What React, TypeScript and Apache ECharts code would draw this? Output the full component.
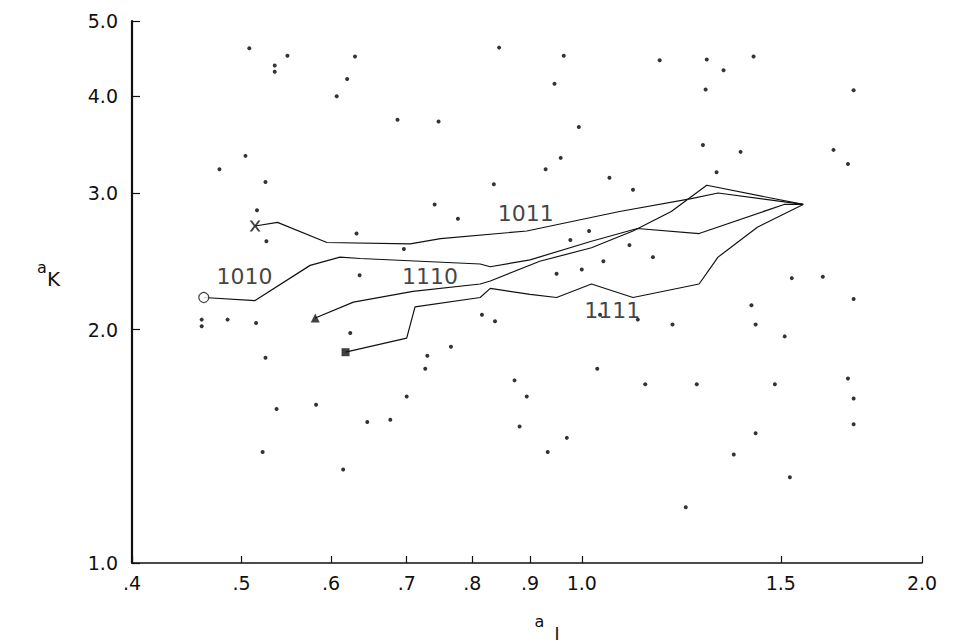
import React, { useEffect, useRef } from 'react';
import * as echarts from 'echarts';

const xTicks = [0.4, 0.5, 0.6, 0.7, 0.8, 0.9, 1.0, 1.5, 2.0];
const xTickLabels = ['.4', '.5', '.6', '.7', '.8', '.9', '1.0', '1.5', '2.0'];
const yTicks = [1.0, 2.0, 3.0, 4.0, 5.0];
const yTickLabels = ['1.0', '2.0', '3.0', '4.0', '5.0'];

const series1011 = [[0.514, 2.72], [0.538, 2.75], [0.595, 2.59], [0.705, 2.58], [0.75, 2.62], [0.894, 2.68], [1.08, 2.84], [1.25, 2.95], [1.32, 3.0], [1.57, 2.9]];
const series1010 = [[0.463, 2.2], [0.514, 2.18], [0.575, 2.42], [0.611, 2.48], [0.637, 2.47], [0.813, 2.43], [0.83, 2.41], [0.9, 2.46], [1.02, 2.6], [1.12, 2.7], [1.27, 2.66], [1.51, 2.9], [1.57, 2.9]];
const series1110 = [[0.581, 2.07], [0.628, 2.17], [0.709, 2.24], [0.813, 2.29], [0.83, 2.31], [0.918, 2.45], [1.02, 2.55], [1.11, 2.68], [1.2, 2.84], [1.29, 3.07], [1.57, 2.9]];
const series1111 = [[0.618, 1.87], [0.70, 1.95], [0.712, 2.14], [0.813, 2.2], [0.83, 2.26], [0.9, 2.22], [0.95, 2.2], [1.02, 2.29], [1.11, 2.2], [1.27, 2.29], [1.32, 2.48], [1.43, 2.71], [1.57, 2.9]];

const curveLabelText = ['1011', '1010', '1110', '1111'];
const curveLabelAt = [[0.892, 2.82], [0.503, 2.34], [0.734, 2.34], [1.064, 2.117]];

const scatterDots = [
  [0.508, 4.61], [0.549, 4.51], [0.535, 4.38], [0.535, 4.30], [0.63, 4.5], [0.62, 4.21], [0.607, 4.0], [0.687, 3.73], [0.747, 3.71], [0.845, 4.62],
  [0.504, 3.35], [0.478, 3.22], [0.525, 3.10], [0.836, 3.08], [0.516, 2.85], [0.741, 2.90], [0.777, 2.78], [0.526, 2.60], [0.632, 2.66], [0.696, 2.54], [0.636, 2.35],
  [0.964, 4.51], [0.946, 4.15], [1.172, 4.45], [1.29, 4.46], [1.335, 4.32], [1.419, 4.5], [1.287, 4.08], [1.74, 4.07], [0.994, 3.65], [0.958, 3.33], [0.929, 3.22],
  [1.058, 3.14], [1.11, 3.03], [1.28, 3.46], [1.382, 3.39], [1.316, 3.19], [1.67, 3.41], [1.72, 3.27],
  [1.015, 2.68], [0.977, 2.61], [1.102, 2.57], [1.045, 2.45], [1.156, 2.48], [0.95, 2.36], [1.0, 2.39], [1.534, 2.33], [1.634, 2.34], [1.74, 2.19],
  [0.461, 2.06], [0.461, 2.02], [0.486, 2.06], [0.515, 2.04], [0.624, 1.98], [0.525, 1.84], [0.73, 1.85], [0.766, 1.90], [0.727, 1.78],
  [0.816, 2.09], [0.838, 2.05], [1.038, 2.09], [1.121, 2.06], [1.203, 2.03], [1.413, 2.15], [1.425, 2.03], [1.512, 1.96],
  [0.522, 1.39], [0.537, 1.58], [0.582, 1.6], [0.615, 1.32], [0.646, 1.52], [0.677, 1.53], [0.70, 1.64], [0.872, 1.72], [0.894, 1.64], [0.881, 1.50],
  [0.933, 1.39], [0.97, 1.45], [1.032, 1.78], [1.138, 1.70], [1.236, 1.18], [1.264, 1.70], [1.363, 1.38], [1.425, 1.47], [1.482, 1.70], [1.528, 1.29],
  [1.74, 1.51], [1.74, 1.63], [1.72, 1.73],
];

const INK = '#111';
const FONT = 'DejaVu Sans';
const X_SYMBOL = 'path://M0,0 L2.2,0 L5,3.8 L7.8,0 L10,0 L6.2,5 L10,10 L7.8,10 L5,6.2 L2.2,10 L0,10 L3.8,5 Z';

function pickLabel(ticks: number[], labels: string[], v: number) {
  const i = ticks.findIndex((t) => Math.abs(t - v) < 1e-6);
  return i >= 0 ? labels[i] : '';
}

export default function App() {
  const ref = useRef<HTMLDivElement>(null);
  useEffect(() => {
    document.body.style.margin = '0';
    if (!ref.current) return;
    const chart = echarts.init(ref.current, null, { renderer: 'svg' });
    const lineStyle = { color: INK, width: 1.2 };
    const mkLine = (name: string, data: number[][]) => ({
      type: 'line', name, data, symbol: 'none', lineStyle, z: 3, silent: true,
    });
    const yNameRich = {
      a: { fontSize: 16, fontFamily: FONT, color: INK, lineHeight: 14, verticalAlign: 'top' },
      k: { fontSize: 20, fontFamily: FONT, color: INK, lineHeight: 29, verticalAlign: 'bottom' },
    };
    const xNameRich = {
      a: { fontSize: 16, fontFamily: FONT, color: INK, lineHeight: 14, verticalAlign: 'top' },
      k: { fontSize: 17, fontFamily: FONT, color: INK, lineHeight: 29, verticalAlign: 'bottom', padding: [0, 0, 0, 10] },
    };
    chart.setOption({
      animation: false,
      backgroundColor: '#fff',
      grid: { left: 132, right: 31, top: 21, bottom: 79, outerBoundsMode: 'none', containLabel: false },
      xAxis: {
        type: 'log', logBase: 10, min: 0.4, max: 2.0,
        name: '{a|a}{k|I}', nameLocation: 'middle', nameGap: 50,
        nameTextStyle: { rich: xNameRich, padding: [0, 0, 0, 40] },
        axisLine: { onZero: false, lineStyle: { color: INK, width: 1.5 } },
        axisTick: { inside: true, length: 7, customValues: xTicks, lineStyle: { color: INK, width: 1.2 } },
        axisLabel: {
          customValues: xTicks, margin: 10, fontSize: 19, fontFamily: FONT, color: INK,
          formatter: (v: number) => pickLabel(xTicks, xTickLabels, v),
        },
        splitLine: { show: false }, minorTick: { show: false },
      },
      yAxis: {
        type: 'log', logBase: 10, min: 1.0, max: 5.0,
        name: '{a|a}{k|K}', nameLocation: 'middle', nameGap: 72, nameRotate: 0,
        nameTextStyle: { rich: yNameRich, padding: [0, 0, 36, 0] },
        axisLine: { onZero: false, lineStyle: { color: INK, width: 2.2 } },
        axisTick: { inside: true, length: 8, customValues: yTicks, lineStyle: { color: INK, width: 1.2 } },
        axisLabel: {
          customValues: yTicks, margin: 14, fontSize: 19, fontFamily: FONT, color: INK,
          formatter: (v: number) => pickLabel(yTicks, yTickLabels, v),
        },
        splitLine: { show: false }, minorTick: { show: false },
      },
      series: [
        mkLine('1011', series1011),
        mkLine('1010', series1010),
        mkLine('1110', series1110),
        mkLine('1111', series1111),
        {
          type: 'scatter', name: 'points', data: scatterDots, symbol: 'circle', symbolSize: 4,
          itemStyle: { color: '#000' }, z: 2, silent: true,
        },
        {
          type: 'scatter', name: 'start', z: 4, silent: true,
          data: [
            { value: series1011[0], symbol: X_SYMBOL, symbolSize: 11, itemStyle: { color: INK } },
            { value: series1010[0], symbol: 'circle', symbolSize: 10, itemStyle: { color: '#fff', borderColor: INK, borderWidth: 1.2 } },
            { value: series1110[0], symbol: 'triangle', symbolSize: 9, itemStyle: { color: INK } },
            { value: series1111[0], symbol: 'rect', symbolSize: 8, itemStyle: { color: INK } },
          ],
        },
        {
          type: 'scatter', name: 'curve labels', z: 5, silent: true, symbol: 'circle', symbolSize: 1,
          itemStyle: { color: 'rgba(0,0,0,0)' },
          data: curveLabelAt.map((p, i) => ({ value: p, name: curveLabelText[i] })),
          label: { show: true, position: 'inside', formatter: '{b}', fontSize: 22, fontFamily: FONT, color: INK },
        },
      ],
    });
    return () => chart.dispose();
  }, []);
  return <div ref={ref} style={{ width: 953, height: 642 }} />;
}
